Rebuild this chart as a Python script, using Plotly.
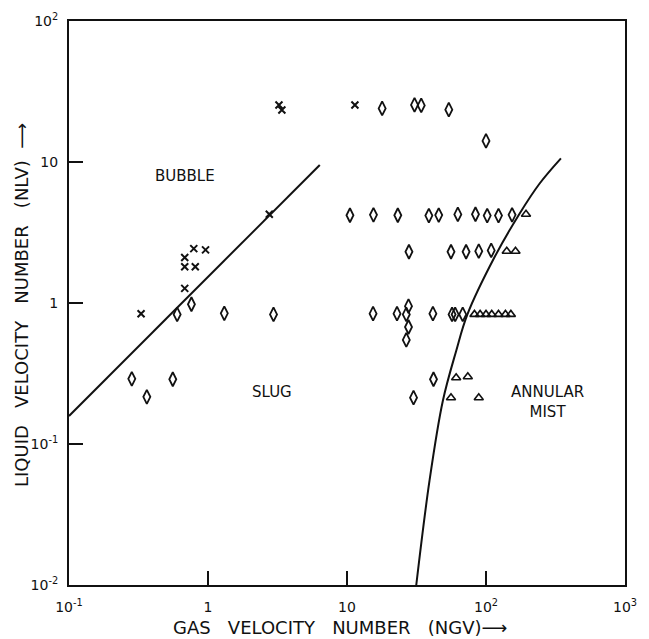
import plotly.graph_objects as go

# Flow-regime map: liquid velocity number vs gas velocity number (log-log)

# Bubble-flow observations (x marks)
bubble_ngv = [0.33, 0.68, 0.68, 0.81, 0.68, 0.79, 0.96, 2.76, 3.24, 3.40, 11.4]
bubble_nlv = [0.84, 1.27, 1.81, 1.81, 2.10, 2.43, 2.38, 4.26, 25.4, 23.4, 25.4]

# Slug-flow observations (diamonds)
slug_ngv = [0.76, 0.60, 1.31, 2.96, 0.283, 0.558, 0.363,
            17.9, 30.6, 34.2, 54.0, 100.0,
            10.5, 15.5, 23.2, 38.8, 45.7, 62.7, 84.0, 102.0, 123.0, 154.0,
            27.9, 56.0, 71.9, 88.7, 109.0,
            15.4, 22.9, 26.7, 27.7, 27.7, 26.7, 41.5, 57.0, 60.0, 68.0,
            41.9, 30.1]
slug_nlv = [0.98, 0.83, 0.845, 0.83, 0.29, 0.288, 0.216,
            24.0, 25.4, 25.2, 23.5, 14.1,
            4.19, 4.22, 4.19, 4.17, 4.20, 4.25, 4.26, 4.17, 4.17, 4.22,
            2.31, 2.31, 2.31, 2.33, 2.36,
            0.84, 0.84, 0.83, 0.95, 0.676, 0.547, 0.84, 0.83, 0.83, 0.83,
            0.288, 0.213]

# Annular-mist observations (triangles)
mist_ngv = [194.0, 141.0, 163.0, 82.6, 90.7, 100.0, 110.0, 123.0, 138.0, 151.0,
            61.0, 74.0, 56.0, 88.7]
mist_nlv = [4.26, 2.33, 2.33, 0.83, 0.83, 0.83, 0.83, 0.83, 0.83, 0.83,
            0.295, 0.30, 0.213, 0.213]

# Bubble/slug transition line
bs_ngv = [0.1, 6.37]
bs_nlv = [0.158, 9.52]

# Slug/annular-mist transition curve
sm_ngv = [31.5, 39.2, 48.9, 61.0, 73.5, 114.8, 173.8, 241.7, 346.0]
sm_nlv = [0.01, 0.0547, 0.202, 0.457, 0.83, 2.10, 4.28, 6.98, 10.6]

x_tickvals = [0.1, 1, 10, 100, 1000]
x_ticktext = ["10<sup>-1</sup>", "1", "10", "10<sup>2</sup>", "10<sup>3</sup>"]
y_tickvals = [0.01, 0.1, 1, 10, 100]
y_ticktext = ["10<sup>-2</sup>", "10<sup>-1</sup>", "1", "10", "10<sup>2</sup>"]

FONT = "DejaVu Sans"
INK = "#111111"

fig = go.Figure()

fig.add_trace(go.Scatter(x=bs_ngv, y=bs_nlv, mode="lines",
                         line=dict(color=INK, width=2), hoverinfo="skip"))
fig.add_trace(go.Scatter(x=sm_ngv, y=sm_nlv, mode="lines",
                         line=dict(color=INK, width=2, shape="spline", smoothing=1.0),
                         hoverinfo="skip"))

fig.add_trace(go.Scatter(x=bubble_ngv, y=bubble_nlv, mode="markers",
                         marker=dict(symbol="x-thin", size=7,
                                     line=dict(color=INK, width=2))))
fig.add_trace(go.Scatter(x=slug_ngv, y=slug_nlv, mode="markers",
                         marker=dict(symbol="diamond-tall-open", size=10, color=INK,
                                     line=dict(color=INK, width=1.8))))
fig.add_trace(go.Scatter(x=mist_ngv, y=mist_nlv, mode="markers",
                         marker=dict(symbol="triangle-up-open", size=8, color=INK,
                                     line=dict(color=INK, width=1.6))))

region_font = dict(family=FONT, size=15, color=INK)
fig.add_annotation(x=-0.165, y=0.90, xref="x", yref="y", text="BUBBLE",
                   showarrow=False, font=region_font)
fig.add_annotation(x=0.459, y=-0.631, xref="x", yref="y", text="SLUG",
                   showarrow=False, font=region_font)
fig.add_annotation(x=2.44, y=-0.70, xref="x", yref="y", text="ANNULAR<br>MIST",
                   showarrow=False, font=region_font, align="center")

title_font = dict(family=FONT, size=18, color=INK)
nb = "\u00a0"
gap = nb * 3
fig.add_annotation(x=0.487, y=-0.076, xref="paper", yref="paper",
                   xanchor="center", yanchor="middle",
                   text=f"GAS{gap}VELOCITY{gap}NUMBER{gap}(NGV)\u27f6",
                   showarrow=False, font=title_font)
fig.add_annotation(x=-0.085, y=0.496, xref="paper", yref="paper",
                   xanchor="center", yanchor="middle",
                   text=f"LIQUID{gap}VELOCITY{gap}NUMBER{gap}(NLV){nb}{nb}\u27f6",
                   textangle=-90, showarrow=False, font=title_font)

axis_common = dict(type="log", showgrid=False, zeroline=False,
                   showline=True, linecolor=INK, linewidth=2, mirror=True,
                   ticks="inside", ticklen=14, tickwidth=1.5, tickcolor=INK,
                   tickfont=dict(family=FONT, size=14, color=INK))

fig.update_xaxes(range=[-1, 3], tickvals=x_tickvals, ticktext=x_ticktext,
                 ticklabelstandoff=8, **axis_common)
fig.update_yaxes(range=[-2, 2], tickvals=y_tickvals, ticktext=y_ticktext,
                 ticklabelstandoff=6, **axis_common)

fig.update_layout(width=649, height=639, showlegend=False,
                  margin=dict(l=69, r=24, t=21, b=54),
                  paper_bgcolor="white", plot_bgcolor="white")

fig.write_html("out.html")
